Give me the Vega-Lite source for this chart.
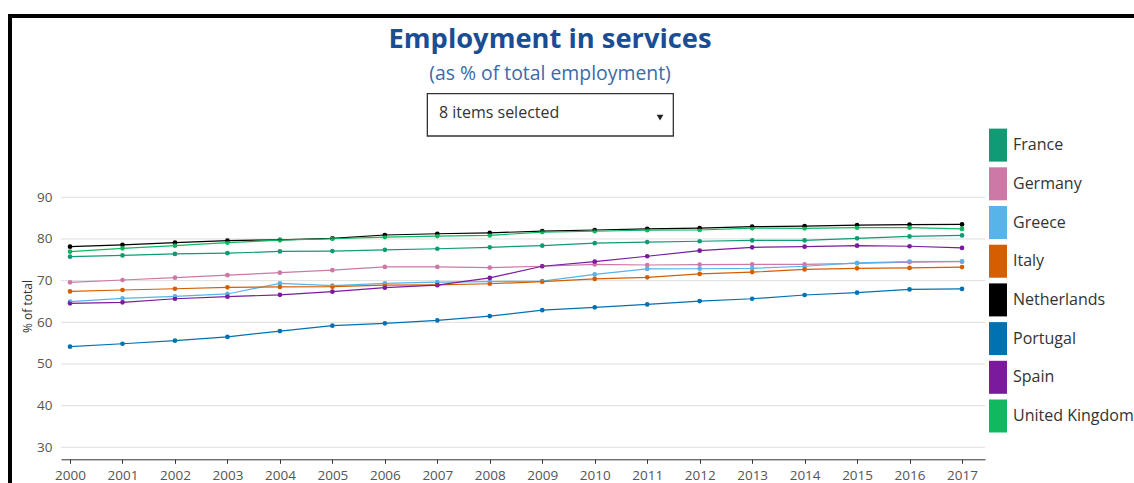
{
  "$schema": "https://vega.github.io/schema/vega-lite/v6.json",
  "width": 1134,
  "height": 477,
  "autosize": {"type": "none"},
  "padding": {"left": 10, "top": 16, "right": -10, "bottom": -10},
  "background": "white",
  "config": {
    "font": "Open Sans",
    "view": {"stroke": "#000000", "strokeWidth": 4, "fill": "white"}
  },
  "title": {
    "text": "Employment in services",
    "subtitle": "(as % of total employment)",
    "anchor": "middle",
    "frame": "group",
    "offset": -67.5,
    "dx": -27,
    "font": "Open Sans",
    "fontSize": 27.3,
    "fontWeight": "bold",
    "color": "#1a4d94",
    "subtitleFont": "Open Sans",
    "subtitleFontSize": 19.4,
    "subtitleColor": "#3b6aa6",
    "subtitlePadding": 11.5
  },
  "datasets": {
    "grid": [{"v": 30}, {"v": 40}, {"v": 50}, {"v": 60}, {"v": 70}, {"v": 80}, {"v": 90}],
    "one": [{"label": "8 items selected"}],
    "emp": [
      {"country": "Netherlands", "year": 2000, "value": 78.15},
      {"country": "Netherlands", "year": 2001, "value": 78.6},
      {"country": "Netherlands", "year": 2002, "value": 79.1},
      {"country": "Netherlands", "year": 2003, "value": 79.6},
      {"country": "Netherlands", "year": 2004, "value": 79.8},
      {"country": "Netherlands", "year": 2005, "value": 80.15},
      {"country": "Netherlands", "year": 2006, "value": 80.95},
      {"country": "Netherlands", "year": 2007, "value": 81.25},
      {"country": "Netherlands", "year": 2008, "value": 81.45},
      {"country": "Netherlands", "year": 2009, "value": 81.9},
      {"country": "Netherlands", "year": 2010, "value": 82.15},
      {"country": "Netherlands", "year": 2011, "value": 82.4},
      {"country": "Netherlands", "year": 2012, "value": 82.6},
      {"country": "Netherlands", "year": 2013, "value": 82.95},
      {"country": "Netherlands", "year": 2014, "value": 83.1},
      {"country": "Netherlands", "year": 2015, "value": 83.3},
      {"country": "Netherlands", "year": 2016, "value": 83.45},
      {"country": "Netherlands", "year": 2017, "value": 83.5},
      {"country": "United Kingdom", "year": 2000, "value": 76.95},
      {"country": "United Kingdom", "year": 2001, "value": 77.75},
      {"country": "United Kingdom", "year": 2002, "value": 78.4},
      {"country": "United Kingdom", "year": 2003, "value": 79.1},
      {"country": "United Kingdom", "year": 2004, "value": 79.7},
      {"country": "United Kingdom", "year": 2005, "value": 80.05},
      {"country": "United Kingdom", "year": 2006, "value": 80.45},
      {"country": "United Kingdom", "year": 2007, "value": 80.7},
      {"country": "United Kingdom", "year": 2008, "value": 80.85},
      {"country": "United Kingdom", "year": 2009, "value": 81.65},
      {"country": "United Kingdom", "year": 2010, "value": 81.85},
      {"country": "United Kingdom", "year": 2011, "value": 82.1},
      {"country": "United Kingdom", "year": 2012, "value": 82.15},
      {"country": "United Kingdom", "year": 2013, "value": 82.6},
      {"country": "United Kingdom", "year": 2014, "value": 82.55},
      {"country": "United Kingdom", "year": 2015, "value": 82.7},
      {"country": "United Kingdom", "year": 2016, "value": 82.7},
      {"country": "United Kingdom", "year": 2017, "value": 82.4},
      {"country": "France", "year": 2000, "value": 75.75},
      {"country": "France", "year": 2001, "value": 76.05},
      {"country": "France", "year": 2002, "value": 76.4},
      {"country": "France", "year": 2003, "value": 76.6},
      {"country": "France", "year": 2004, "value": 77.0},
      {"country": "France", "year": 2005, "value": 77.1},
      {"country": "France", "year": 2006, "value": 77.4},
      {"country": "France", "year": 2007, "value": 77.65},
      {"country": "France", "year": 2008, "value": 78.0},
      {"country": "France", "year": 2009, "value": 78.4},
      {"country": "France", "year": 2010, "value": 79.0},
      {"country": "France", "year": 2011, "value": 79.25},
      {"country": "France", "year": 2012, "value": 79.45},
      {"country": "France", "year": 2013, "value": 79.65},
      {"country": "France", "year": 2014, "value": 79.65},
      {"country": "France", "year": 2015, "value": 80.15},
      {"country": "France", "year": 2016, "value": 80.6},
      {"country": "France", "year": 2017, "value": 80.85},
      {"country": "Germany", "year": 2000, "value": 69.6},
      {"country": "Germany", "year": 2001, "value": 70.15},
      {"country": "Germany", "year": 2002, "value": 70.7},
      {"country": "Germany", "year": 2003, "value": 71.3},
      {"country": "Germany", "year": 2004, "value": 71.9},
      {"country": "Germany", "year": 2005, "value": 72.5},
      {"country": "Germany", "year": 2006, "value": 73.3},
      {"country": "Germany", "year": 2007, "value": 73.3},
      {"country": "Germany", "year": 2008, "value": 73.1},
      {"country": "Germany", "year": 2009, "value": 73.45},
      {"country": "Germany", "year": 2010, "value": 73.9},
      {"country": "Germany", "year": 2011, "value": 73.75},
      {"country": "Germany", "year": 2012, "value": 73.85},
      {"country": "Germany", "year": 2013, "value": 73.9},
      {"country": "Germany", "year": 2014, "value": 73.9},
      {"country": "Germany", "year": 2015, "value": 74.15},
      {"country": "Germany", "year": 2016, "value": 74.45},
      {"country": "Germany", "year": 2017, "value": 74.55},
      {"country": "Greece", "year": 2000, "value": 64.95},
      {"country": "Greece", "year": 2001, "value": 65.75},
      {"country": "Greece", "year": 2002, "value": 66.2},
      {"country": "Greece", "year": 2003, "value": 66.8},
      {"country": "Greece", "year": 2004, "value": 69.35},
      {"country": "Greece", "year": 2005, "value": 68.8},
      {"country": "Greece", "year": 2006, "value": 69.35},
      {"country": "Greece", "year": 2007, "value": 69.65},
      {"country": "Greece", "year": 2008, "value": 69.75},
      {"country": "Greece", "year": 2009, "value": 69.9},
      {"country": "Greece", "year": 2010, "value": 71.5},
      {"country": "Greece", "year": 2011, "value": 72.8},
      {"country": "Greece", "year": 2012, "value": 72.85},
      {"country": "Greece", "year": 2013, "value": 72.95},
      {"country": "Greece", "year": 2014, "value": 73.45},
      {"country": "Greece", "year": 2015, "value": 74.25},
      {"country": "Greece", "year": 2016, "value": 74.55},
      {"country": "Greece", "year": 2017, "value": 74.65},
      {"country": "Italy", "year": 2000, "value": 67.4},
      {"country": "Italy", "year": 2001, "value": 67.75},
      {"country": "Italy", "year": 2002, "value": 68.05},
      {"country": "Italy", "year": 2003, "value": 68.4},
      {"country": "Italy", "year": 2004, "value": 68.5},
      {"country": "Italy", "year": 2005, "value": 68.55},
      {"country": "Italy", "year": 2006, "value": 68.9},
      {"country": "Italy", "year": 2007, "value": 69.0},
      {"country": "Italy", "year": 2008, "value": 69.25},
      {"country": "Italy", "year": 2009, "value": 69.75},
      {"country": "Italy", "year": 2010, "value": 70.4},
      {"country": "Italy", "year": 2011, "value": 70.8},
      {"country": "Italy", "year": 2012, "value": 71.6},
      {"country": "Italy", "year": 2013, "value": 72.05},
      {"country": "Italy", "year": 2014, "value": 72.7},
      {"country": "Italy", "year": 2015, "value": 72.95},
      {"country": "Italy", "year": 2016, "value": 73.05},
      {"country": "Italy", "year": 2017, "value": 73.25},
      {"country": "Spain", "year": 2000, "value": 64.55},
      {"country": "Spain", "year": 2001, "value": 64.8},
      {"country": "Spain", "year": 2002, "value": 65.65},
      {"country": "Spain", "year": 2003, "value": 66.15},
      {"country": "Spain", "year": 2004, "value": 66.6},
      {"country": "Spain", "year": 2005, "value": 67.35},
      {"country": "Spain", "year": 2006, "value": 68.3},
      {"country": "Spain", "year": 2007, "value": 68.9},
      {"country": "Spain", "year": 2008, "value": 70.65},
      {"country": "Spain", "year": 2009, "value": 73.45},
      {"country": "Spain", "year": 2010, "value": 74.55},
      {"country": "Spain", "year": 2011, "value": 75.85},
      {"country": "Spain", "year": 2012, "value": 77.2},
      {"country": "Spain", "year": 2013, "value": 78.0},
      {"country": "Spain", "year": 2014, "value": 78.15},
      {"country": "Spain", "year": 2015, "value": 78.4},
      {"country": "Spain", "year": 2016, "value": 78.25},
      {"country": "Spain", "year": 2017, "value": 77.85},
      {"country": "Portugal", "year": 2000, "value": 54.15},
      {"country": "Portugal", "year": 2001, "value": 54.85},
      {"country": "Portugal", "year": 2002, "value": 55.6},
      {"country": "Portugal", "year": 2003, "value": 56.5},
      {"country": "Portugal", "year": 2004, "value": 57.9},
      {"country": "Portugal", "year": 2005, "value": 59.2},
      {"country": "Portugal", "year": 2006, "value": 59.75},
      {"country": "Portugal", "year": 2007, "value": 60.45},
      {"country": "Portugal", "year": 2008, "value": 61.5},
      {"country": "Portugal", "year": 2009, "value": 62.9},
      {"country": "Portugal", "year": 2010, "value": 63.6},
      {"country": "Portugal", "year": 2011, "value": 64.3},
      {"country": "Portugal", "year": 2012, "value": 65.1},
      {"country": "Portugal", "year": 2013, "value": 65.65},
      {"country": "Portugal", "year": 2014, "value": 66.55},
      {"country": "Portugal", "year": 2015, "value": 67.1},
      {"country": "Portugal", "year": 2016, "value": 67.9},
      {"country": "Portugal", "year": 2017, "value": 68.0}
    ]
  },
  "layer": [
    {
      "data": {"name": "grid"},
      "mark": {"type": "rule", "color": "#dedede", "strokeWidth": 1},
      "encoding": {
        "y": {"field": "v", "type": "quantitative", "scale": {"domain": [27.12, 90], "range": [443.3, 181.3], "nice": false, "zero": false},
          "axis": {"orient": "left", "offset": -46, "values": [30,40,50,60,70,80,90], "grid": false, "domain": false, "ticks": false, "labelPadding": 4, "labelFontSize": 13.5, "labelColor": "#555555", "labelFont": "Open Sans", "title": "% of total", "titleFont": "Open Sans", "titleFontSize": 12, "titleFontWeight": "normal", "titleColor": "#333333", "titleX": -24.5, "titleY": 290, "titleAngle": -90, "titleBaseline": "alphabetic", "titleAlign": "center"}},
        "x": {"datum": 1999.828, "type": "quantitative", "scale": {"domain": [1999.828, 2017.438], "range": [51, 975], "nice": false, "zero": false},
          "axis": {"orient": "bottom", "offset": -33.7, "title": null, "values": [2000,2001,2002,2003,2004,2005,2006,2007,2008,2009,2010,2011,2012,2013,2014,2015,2016,2017], "format": "d", "grid": false, "domainColor": "#333333", "tickColor": "#333333", "tickSize": 4, "labelPadding": 5, "labelFontSize": 13.5, "labelColor": "#555555", "labelFont": "Open Sans"}},
        "x2": {"datum": 2017.438}
      }
    },
    {
      "data": {"name": "emp"},
      "mark": {"type": "point", "filled": true, "size": 22, "opacity": 1},
      "encoding": {
        "x": {"field": "year", "type": "quantitative", "scale": {"domain": [1999.828, 2017.438], "range": [51, 975], "nice": false, "zero": false}},
        "y": {"field": "value", "type": "quantitative", "scale": {"domain": [27.12, 90], "range": [443.3, 181.3], "nice": false, "zero": false}},
        "color": {"field": "country", "type": "nominal", "scale": {"domain": ["France", "Germany", "Greece", "Italy", "Netherlands", "Portugal", "Spain", "United Kingdom"], "range": ["#0f9b74", "#cc79a7", "#56b4e9", "#d55e00", "#000000", "#0072b2", "#7a1a9e", "#10b860"]},
          "legend": {"orient": "none", "legendX": 971.5, "legendY": 112.6, "title": null, "padding": 0, "symbolType": "M-0.545,-1H0.545V1H-0.545Z", "symbolSize": 1089, "symbolStrokeWidth": 0, "symbolOpacity": 1, "labelFont": "Open Sans", "labelFontSize": 16, "labelColor": "#333333", "labelOffset": -1.5, "rowPadding": 5.7, "labelLimit": 200}}
      }
    },
    {
      "data": {"name": "emp"},
      "mark": {"type": "line", "strokeWidth": 1.2},
      "encoding": {
        "x": {"field": "year", "type": "quantitative", "scale": {"domain": [1999.828, 2017.438], "range": [51, 975], "nice": false, "zero": false}},
        "y": {"field": "value", "type": "quantitative", "scale": {"domain": [27.12, 90], "range": [443.3, 181.3], "nice": false, "zero": false}},
        "color": {"field": "country", "type": "nominal", "scale": {"domain": ["France", "Germany", "Greece", "Italy", "Netherlands", "Portugal", "Spain", "United Kingdom"], "range": ["#0f9b74", "#cc79a7", "#56b4e9", "#d55e00", "#000000", "#0072b2", "#7a1a9e", "#10b860"]}}
      }
    },
    {
      "data": {"name": "one"},
      "mark": {"type": "rect", "fill": "white", "stroke": "#333333", "strokeWidth": 1.3},
      "encoding": {
        "x": {"datum": 2006.81, "type": "quantitative", "scale": {"domain": [1999.828, 2017.438], "range": [51, 975], "nice": false, "zero": false}},
        "x2": {"datum": 2011.498},
        "y": {"datum": 114.87, "type": "quantitative", "scale": {"domain": [27.12, 90], "range": [443.3, 181.3], "nice": false, "zero": false}},
        "y2": {"datum": 104.71}
      }
    },
    {
      "data": {"name": "one"},
      "mark": {"type": "text", "align": "left", "baseline": "alphabetic", "font": "Open Sans", "fontSize": 16, "color": "#333333"},
      "encoding": {
        "x": {"datum": 2007.03, "type": "quantitative", "scale": {"domain": [1999.828, 2017.438], "range": [51, 975], "nice": false, "zero": false}},
        "y": {"datum": 109.03, "type": "quantitative", "scale": {"domain": [27.12, 90], "range": [443.3, 181.3], "nice": false, "zero": false}},
        "text": {"field": "label", "type": "nominal"}
      }
    },
    {
      "data": {"name": "one"},
      "mark": {"type": "point", "shape": "triangle-down", "filled": true, "color": "#222222", "size": 45, "opacity": 1},
      "encoding": {
        "x": {"datum": 2011.245, "type": "quantitative", "scale": {"domain": [1999.828, 2017.438], "range": [51, 975], "nice": false, "zero": false}},
        "y": {"datum": 109.1, "type": "quantitative", "scale": {"domain": [27.12, 90], "range": [443.3, 181.3], "nice": false, "zero": false}}
      }
    }
  ]
}
